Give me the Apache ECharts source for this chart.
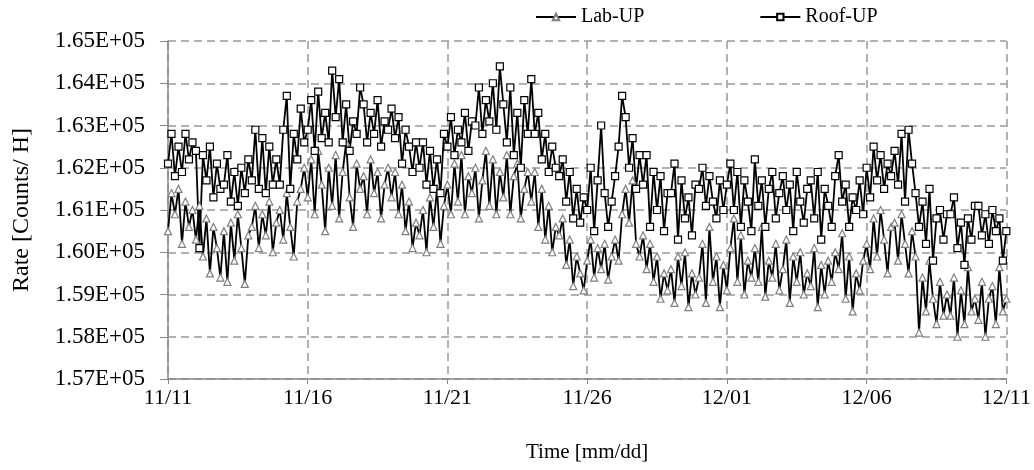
<!DOCTYPE html>
<html>
<head>
<meta charset="utf-8">
<script src="https://cdn.jsdelivr.net/npm/echarts@6/dist/echarts.min.js"></script>
<style>
html,body{margin:0;padding:0;background:#fff;}
#c{width:1034px;height:470px;}
</style>
</head>
<body>
<div id="c"></div>
<script>
// Time axis: days since 11/11, 8 samples per day (every 3 h)
var xTickLabels = ['11/11','11/16','11/21','11/26','12/01','12/06','12/11'];
var yTickLabels = ['1.57E+05','1.58E+05','1.59E+05','1.60E+05','1.61E+05','1.62E+05','1.63E+05','1.64E+05','1.65E+05'];
var samplesPerDay = 8;

var labUP = [
160500,161400,160900,161500,160200,161200,160600,161000,
160300,161100,159900,160800,159500,160600,160100,159400,
160500,159300,160700,159800,160900,160100,159250,160400,
160600,161100,160100,160900,160400,161200,160000,160700,
161000,160300,161400,160600,159900,161200,161500,162000,
161300,162200,160900,162400,161600,160500,162000,161100,
162300,160800,161900,162600,161300,160600,162100,161500,
161800,160900,162200,161400,161900,160800,161600,162000,
161300,161900,160900,161600,160500,161200,160100,160700,
160400,161000,160000,161300,160600,161500,160200,161100,
161600,160900,162100,161200,162300,160900,161800,161400,
162000,160800,161700,162400,161100,162200,160900,161900,
161300,162300,160900,161800,162100,160800,161500,161900,
161200,161900,160600,161500,160300,161100,160000,160600,
160400,160800,159700,160300,159200,159900,159500,159100,
159800,160300,159400,160100,159600,160200,159350,159900,
160300,159800,160900,161500,160700,161700,160200,159900,
160400,159600,160200,159300,159900,158900,159500,159100,
159600,158800,159900,159200,160000,158700,159500,159000,
159400,160200,158800,160600,159300,159900,158700,159700,
159100,160100,160800,159300,160400,159000,159800,159400,
160100,159300,160600,158950,159800,159400,160200,159100,
159600,160300,158800,159900,159300,160000,159000,159500,
159200,160100,158700,159700,159000,159800,159300,160000,
159600,160450,158900,159900,158600,159500,159100,159800,
160200,159600,160800,159900,161000,160300,159500,160600,
160700,159800,160900,160200,159500,160500,159900,158100,
159400,158600,159800,158900,158300,159300,158500,159000,
158500,159400,158000,159100,158300,159650,158600,158900,
158400,159300,158000,158900,159200,158300,159650,158600,
158900
];

var roofUP = [
162100,162800,161800,162500,161900,162800,162200,162600,
162400,160100,162300,161700,162500,161300,162100,161500,
161600,162300,161200,161900,161100,162000,161400,162200,
161700,162900,161500,162700,161400,162500,161600,162200,
161600,162900,163700,161500,162800,162200,163400,162600,
162900,163600,162400,163800,162700,163300,162600,164300,
163200,164100,162600,163500,162400,163100,162800,163900,
163500,162600,163300,162800,163600,162500,163100,162900,
163400,162700,163200,162100,162900,162500,161900,162600,
162000,162600,161600,162400,161500,162200,161400,162800,
162500,163200,162300,162900,162600,163300,162400,163100,
163000,163900,162800,163600,163100,164000,162900,164400,
163500,162600,163900,162300,163300,162000,163600,162800,
164100,162800,163300,162200,162800,161900,162500,162000,
161800,162200,161200,161900,160800,161500,160700,161300,
161000,162000,160500,161700,163000,161400,160600,161200,
161800,162500,163700,163200,162000,162700,161500,162300,
161600,162300,160600,161900,161000,161800,160500,161400,
161400,162100,160300,161700,160800,161300,160400,161600,
161500,162000,161100,161800,161200,160800,161700,161000,
161600,162100,161000,161900,160600,161700,161200,160500,
162200,161100,161700,160600,161500,161900,160800,161400,
161800,161000,161600,160500,161900,161200,160700,161500,
161700,160800,161900,160300,161500,161100,160600,161800,
162300,161200,161600,160600,161300,161000,161700,160900,
162000,161300,162500,161700,162300,161500,162100,161800,
162400,161600,162800,161200,162900,162100,161400,160600,
161200,160200,161500,159800,160800,161000,160300,160900,
160900,161300,160100,160700,159700,160800,160300,161100,
161100,160400,160900,160200,161000,160500,160800,159800,
160500
];

function toPairs(arr){
  return arr.map(function(v,i){ return [i/samplesPerDay, v]; });
}

var fontFam = '"Liberation Serif","Times New Roman",serif';
var chart = echarts.init(document.getElementById('c'), null, {renderer:'canvas'});
chart.setOption({
  animation:false,
  backgroundColor:'#fff',
  grid:{left:168,right:26,top:41,bottom:91},
  legend:{
    top:2,left:530,itemGap:115,itemWidth:40,itemHeight:8,
    textStyle:{fontFamily:fontFam,fontSize:20,color:'#000'},
    data:['Lab-UP','Roof-UP']
  },
  xAxis:{
    type:'value',min:0,max:30,interval:5,
    name:'Time [mm/dd]',nameLocation:'middle',nameGap:63,
    nameTextStyle:{fontFamily:fontFam,fontSize:21,color:'#000'},
    axisLine:{lineStyle:{color:'#888',width:1.5}},
    axisTick:{show:true,length:5,lineStyle:{color:'#888'}},
    axisLabel:{fontFamily:fontFam,fontSize:22,color:'#000',margin:8,
      formatter:function(v){ return xTickLabels[Math.round(v/5)]; }},
    splitLine:{show:true,lineStyle:{color:'#999',type:[8,5],width:1.5}}
  },
  yAxis:{
    type:'value',min:157000,max:165000,interval:1000,
    name:'Rate [Counts/ H]',nameLocation:'middle',nameGap:134,
    nameTextStyle:{fontFamily:fontFam,fontSize:24,color:'#000'},
    axisLine:{show:true,lineStyle:{color:'#888',width:1.5}},
    axisTick:{show:true,length:8,lineStyle:{color:'#888'}},
    axisLabel:{fontFamily:fontFam,fontSize:23,color:'#000',margin:23,
      formatter:function(v){ return yTickLabels[Math.round((v-157000)/1000)]; }},
    splitLine:{show:true,lineStyle:{color:'#999',type:[8,5],width:1.5}}
  },
  series:[
    {
      name:'Lab-UP',type:'line',data:toPairs(labUP),
      symbol:'triangle',symbolSize:7,showAllSymbol:true,
      lineStyle:{color:'#000',width:1.8},
      itemStyle:{color:'#fff',borderColor:'#7f7f7f',borderWidth:1.2},
      emphasis:{disabled:true}
    },
    {
      name:'Roof-UP',type:'line',data:toPairs(roofUP),
      symbol:'rect',symbolSize:7,showAllSymbol:true,
      lineStyle:{color:'#000',width:1.8},
      itemStyle:{color:'#fff',borderColor:'#000',borderWidth:1.2},
      emphasis:{disabled:true}
    }
  ]
});
</script>
</body>
</html>
